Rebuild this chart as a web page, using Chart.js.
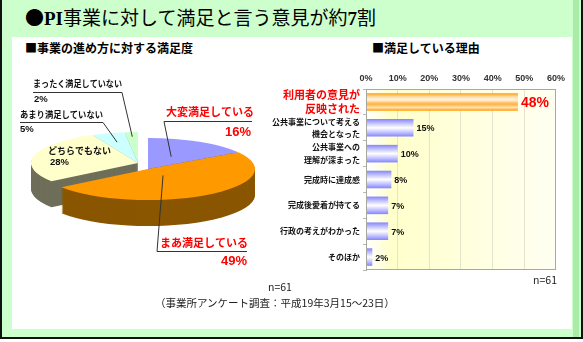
<!DOCTYPE html>
<html lang="ja">
<head>
<meta charset="utf-8">
<title>PI事業の満足度</title>
<script src="https://cdn.jsdelivr.net/npm/chart.js@4"></script>
<style>
  body { margin: 0; background: #fff; font-family: "Noto Sans CJK JP", sans-serif; }
  #page { position: relative; width: 583px; height: 342px; overflow: hidden; }
  .abs { position: absolute; white-space: nowrap; }
  #frame { left: 0; top: 0; width: 579px; height: 337px; background: #ccffcc; border: 2px solid #111; border-top: 0; }
  #strip { left: 573px; top: 0; width: 6px; height: 337px; background: #a8eca8; }
  #panel { left: 12px; top: 37px; width: 560px; height: 292px; background: #fff; }
  #title { left: 25px; top: 6px; font-size: 19px; line-height: 22px; color: #000; }
  #title b { font-family: "Liberation Serif", serif; }
  .sub { top: 41px; font-size: 12px; font-weight: bold; line-height: 14px; }
  .note { font-size: 10.5px; line-height: 14px; color: #222; }
</style>
</head>
<body>
<div id="page">
  <div id="frame" class="abs"></div>
  <div id="strip" class="abs"></div>
  <div id="panel" class="abs"></div>
  <div id="title" class="abs">●<b>PI</b>事業に対して満足と言う意見が約<b>7</b>割</div>
  <div class="abs sub" style="left:25px">■事業の進め方に対する満足度</div>
  <div class="abs sub" style="left:372px">■満足している理由</div>
  <canvas id="pie" class="abs" width="268" height="265" style="left:12px;top:37px"></canvas>
  <canvas id="bar" class="abs" width="300" height="232" style="left:270px;top:60px"></canvas>
  <div class="abs note" style="right:26px;top:273px">n=61</div>
  <div class="abs note" style="left:268px;top:280px">n=61</div>
  <div class="abs note" style="left:155px;top:296px">（事業所アンケート調査：平成19年3月15～23日）</div>
</div>
<script>
// data
const pieLabels = ['大変満足している', 'まあ満足している', 'どちらでもない', 'あまり満足していない', 'まったく満足していない'];
const pieValues = [16, 49, 28, 5, 2];

const reasonLabels = [
  ['利用者の意見が', '反映された'],
  ['公共事業について考える', '機会となった'],
  ['公共事業への', '理解が深まった'],
  '完成時に達成感',
  '完成後愛着が持てる',
  '行政の考えがわかった',
  'そのほか'
];
const reasonValues = [48, 15, 10, 8, 7, 7, 2];
const percentTicks = [0, 10, 20, 30, 40, 50, 60];

// look of the pie
const topColors = ['#9999ff', '#ff9900', '#ffffcc', '#ccffff', '#ccffcc'];
const sideColors = ['#5c5ca8', '#8a5600', '#6e6e5a', '#88a8a8', '#88a888'];
const explode = [[10, 6], [10, 6], [0, 0], [0, 0], [0, 0]];
const tilt = 0.29, depth = 26;
const RED = '#ff0000';
const JP = "'Noto Sans CJK JP'";

// where each pie label sits (canvas px), and how the leader line runs
const pieLabelPos = [
  { x: 154, y: 75, line: [152, 240, 84], from: 'left', pct: [239, 95], red: true, f: 0.45 },
  { x: 148, y: 206, line: [145, 235, 214], from: 'left', pct: [235, 224], red: true, f: 0.25 },
  { x: 36, y: 114, pct: [38, 125], f: 0, inside: true },
  { x: 8, y: 78, line: [8, 91, 85], from: 'right', pct: [8, 92], f: 0.7 },
  { x: 21, y: 47, line: [21, 110, 55], from: 'right', pct: [22, 62], f: 0.85 }
];

function wedge(ctx, cx, cy, rx, ry, a0, a1) {
  ctx.beginPath();
  ctx.moveTo(cx, cy);
  ctx.ellipse(cx, cy, rx, ry, 0, a0, a1);
  ctx.closePath();
}

const pie3d = {
  id: 'pie3d',
  beforeDatasetsDraw(chart) {
    const ctx = chart.ctx;
    const arcs = chart.getDatasetMeta(0).data;
    const geo = arcs.map((arc, i) => {
      const p = arc.getProps(['x', 'y', 'startAngle', 'endAngle', 'outerRadius'], true);
      return {
        cx: p.x + explode[i][0], cy: p.y + explode[i][1],
        rx: p.outerRadius, ry: p.outerRadius * tilt,
        a0: p.startAngle, a1: p.endAngle, mid: (p.startAngle + p.endAngle) / 2
      };
    });
    const order = geo.map((g, i) => i).sort((i, j) => Math.sin(geo[i].mid) - Math.sin(geo[j].mid));

    ctx.save();
    order.forEach(i => {
      const g = geo[i];
      ctx.fillStyle = sideColors[i];
      for (let k = depth; k > 0; k--) {
        wedge(ctx, g.cx, g.cy + k, g.rx, g.ry, g.a0, g.a1);
        ctx.fill();
      }
      wedge(ctx, g.cx, g.cy, g.rx, g.ry, g.a0, g.a1);
      ctx.fillStyle = topColors[i];
      ctx.fill();
    });

    // labels with leader lines
    ctx.textBaseline = 'middle';
    pieLabelPos.forEach((lp, i) => {
      const g = geo[i];
      ctx.fillStyle = lp.red ? RED : '#111';
      ctx.textAlign = 'left';
      if (lp.red) {
        ctx.font = 'bold 11px ' + JP;
        ctx.fillText(pieLabels[i], lp.x, lp.y);
        ctx.font = 'bold 13px "Liberation Sans"';
        ctx.textAlign = 'right';
      } else {
        ctx.font = 'bold 9px ' + JP;
        ctx.fillText(pieLabels[i], lp.x, lp.y, lp.line ? lp.line[1] - lp.line[0] : 80);
        ctx.font = 'bold 9.5px "Liberation Sans"';
      }
      ctx.fillText(pieValues[i] + '%', lp.pct[0], lp.pct[1]);

      if (lp.line) {
        const [x0, x1, ly] = lp.line;
        const sx = lp.from === 'left' ? x0 : x1;
        const ax = g.cx + g.rx * lp.f * Math.cos(g.mid);
        const ay = g.cy + g.ry * lp.f * Math.sin(g.mid);
        ctx.strokeStyle = '#333';
        ctx.lineWidth = 1;
        ctx.beginPath();
        ctx.moveTo(x0, ly + 0.5);
        ctx.lineTo(x1, ly + 0.5);
        ctx.moveTo(sx, ly + 0.5);
        ctx.lineTo(ax, ay);
        ctx.stroke();
      }
    });
    ctx.restore();
    return false;
  }
};

new Chart(document.getElementById('pie'), {
  type: 'pie',
  data: {
    labels: pieLabels,
    datasets: [{ data: pieValues, backgroundColor: topColors, borderWidth: 0 }]
  },
  options: {
    responsive: false,
    animation: false,
    devicePixelRatio: 1,
    radius: 107,
    layout: { padding: { left: 0, right: 16, top: 0, bottom: 13 } },
    plugins: { legend: { display: false }, tooltip: { enabled: false } }
  },
  plugins: [pie3d]
});

// bar chart
const BAR_PCT = 0.85, CAT_PCT = 0.8;

function barFill(c) {
  const chart = c.chart;
  const y = chart.scales.y;
  const first = c.dataIndex === 0;
  const plain = first ? '#ff9900' : '#9999ff';
  if (!y || c.dataIndex === undefined) return plain;
  const cy = y.getPixelForValue(c.dataIndex);
  const half = (y.bottom - y.top) / reasonLabels.length * BAR_PCT * CAT_PCT / 2;
  if (!isFinite(cy) || !isFinite(half) || half <= 0) return plain;
  const g = chart.ctx.createLinearGradient(0, cy - half, 0, cy + half);
  if (first) {
    g.addColorStop(0, '#ff9900');
    g.addColorStop(0.18, '#ffd79a');
    g.addColorStop(0.38, '#fff4e4');
    g.addColorStop(0.62, '#ffb13a');
    g.addColorStop(0.82, '#ffe2b8');
    g.addColorStop(1, '#ff9900');
  } else {
    g.addColorStop(0, '#8484ff');
    g.addColorStop(0.25, '#c4c4ff');
    g.addColorStop(0.5, '#ffffff');
    g.addColorStop(0.75, '#c4c4ff');
    g.addColorStop(1, '#8484ff');
  }
  return g;
}

const plotBg = {
  id: 'plotBg',
  beforeDraw(chart) {
    const { ctx, chartArea: a } = chart;
    const g = ctx.createLinearGradient(a.left, 0, a.right, 0);
    g.addColorStop(0, '#ffffff');
    g.addColorStop(0.13, '#ffffcc');
    g.addColorStop(1, '#fffff2');
    ctx.save();
    ctx.fillStyle = g;
    ctx.fillRect(a.left, a.top, a.right - a.left, a.bottom - a.top);
    ctx.restore();
  },
  afterDatasetsDraw(chart) {
    const { ctx, chartArea: a } = chart;
    ctx.save();
    ctx.strokeStyle = '#a8a8a0';
    ctx.lineWidth = 1;
    ctx.strokeRect(a.left + 0.5, a.top + 0.5, a.right - a.left - 1, a.bottom - a.top - 1);

    // value labels at the bar ends
    ctx.textBaseline = 'middle';
    ctx.textAlign = 'left';
    chart.getDatasetMeta(0).data.forEach((bar, i) => {
      if (i === 0) {
        ctx.fillStyle = RED;
        ctx.font = 'bold 14px "Liberation Sans"';
      } else {
        ctx.fillStyle = '#111';
        ctx.font = 'bold 9px "Liberation Sans"';
      }
      ctx.fillText(reasonValues[i] + '%', bar.x + 3, bar.y + 1);
    });
    ctx.restore();
  }
};

new Chart(document.getElementById('bar'), {
  type: 'bar',
  data: {
    labels: reasonLabels,
    datasets: [{
      data: reasonValues,
      backgroundColor: barFill,
      borderWidth: 0,
      barPercentage: BAR_PCT,
      categoryPercentage: CAT_PCT
    }]
  },
  options: {
    indexAxis: 'y',
    responsive: false,
    animation: false,
    devicePixelRatio: 1,
    layout: { padding: { left: 0, right: 13, top: 0, bottom: 22 } },
    scales: {
      x: {
        position: 'top',
        min: percentTicks[0],
        max: percentTicks[percentTicks.length - 1],
        afterFit: s => { s.height = 29; },
        ticks: {
          stepSize: percentTicks[1] - percentTicks[0],
          callback: v => v + '%',
          color: '#333',
          padding: 5,
          font: { family: 'Liberation Sans', size: 9, weight: 'bold' }
        },
        grid: { color: '#e4e4cc', drawTicks: false },
        border: { color: '#a8a8a0' }
      },
      y: {
        afterFit: s => { s.width = 96; },
        ticks: {
          autoSkip: false,
          color: c => c.index === 0 ? RED : '#111',
          padding: 3,
          font: c => c.index === 0
            ? { family: 'Noto Sans CJK JP', size: 11, weight: 'bold', lineHeight: 1.25 }
            : { family: 'Noto Sans CJK JP', size: 8, weight: 'bold', lineHeight: 1.55 }
        },
        grid: { drawOnChartArea: false, tickLength: 3, color: '#b8b8b0' },
        border: { color: '#a8a8a0' }
      }
    },
    plugins: { legend: { display: false }, tooltip: { enabled: false } }
  },
  plugins: [plotBg]
});
</script>
</body>
</html>
